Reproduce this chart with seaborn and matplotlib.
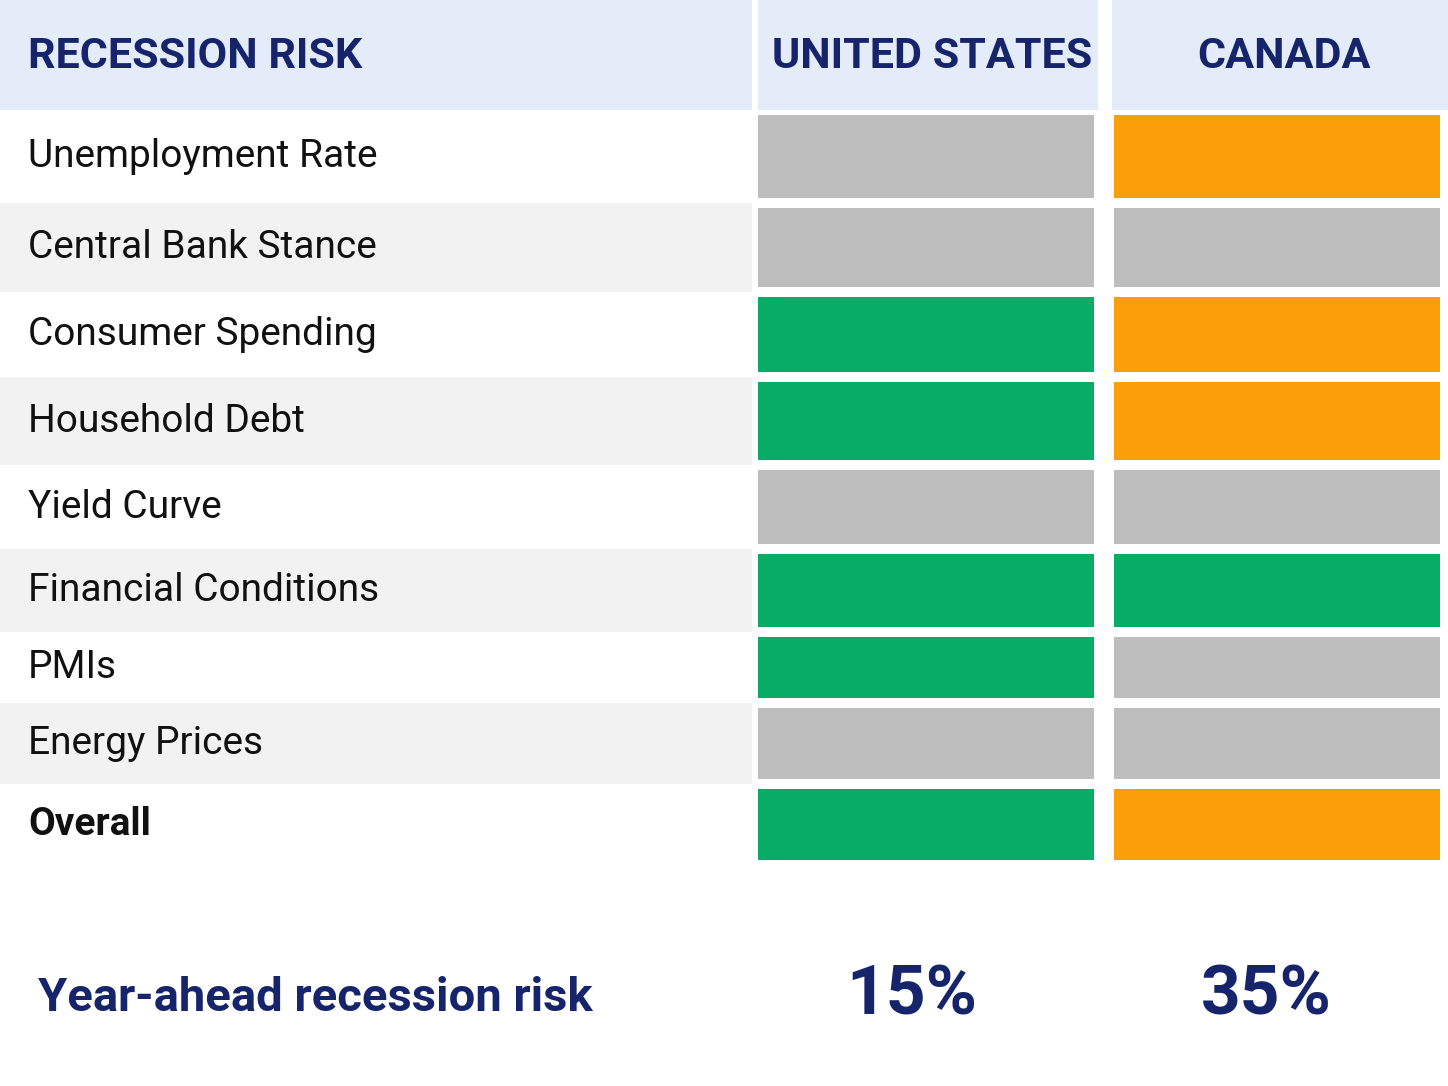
import matplotlib
matplotlib.use("Agg")
import matplotlib.pyplot as plt
import seaborn as sns

sns.set_theme(style="white")
plt.rcParams['font.family'] = ['Liberation Sans Narrow', 'Roboto', 'DejaVu Sans']

# data
indicators = ["Unemployment Rate", "Central Bank Stance", "Consumer Spending", "Household Debt",
              "Yield Curve", "Financial Conditions", "PMIs", "Energy Prices", "Overall"]
us_status = ["neutral", "neutral", "low", "low", "neutral", "low", "low", "neutral", "low"]
ca_status = ["elevated", "neutral", "elevated", "elevated", "neutral", "low", "neutral", "neutral", "elevated"]
countries = ["UNITED STATES", "CANADA"]
risk_pct = ["15%", "35%"]

palette = {"neutral": "#bdbdbd", "low": "#07ad66", "elevated": "#fa9e0a"}
navy = "#16256b"

# layout (pixel coords)
row_edges = [110, 203, 292, 377, 465, 549, 632, 703, 784, 865]
col_x = [(758, 1094), (1114, 1440)]
header_cols = [(0, 752), (758, 1098), (1112, 1448)]

fig = plt.figure(figsize=(14.48, 10.86), dpi=100)
ax = fig.add_axes([0, 0, 1, 1])
ax.set_xlim(0, 1448)
ax.set_ylim(1086, 0)
ax.axis("off")

# header band
for x0, x1 in header_cols:
    ax.bar((x0 + x1) / 2, 110, width=x1 - x0, bottom=0, color="#e3ecf8", linewidth=0)
ax.text(28, 56, "RECESSION RISK", fontsize=31, fontweight="bold", color=navy, va="center")
for (x0, x1), name in zip(header_cols[1:], countries):
    ax.text((x0 + x1) / 2 + 4, 56, name, fontsize=31, fontweight="bold", color=navy,
            va="center", ha="center")

# rows
for i, label in enumerate(indicators):
    top, bot = row_edges[i], row_edges[i + 1]
    if i % 2 == 1:
        ax.bar(376, bot - top, width=752, bottom=top, color="#f2f2f2", linewidth=0)
    for (x0, x1), status in zip(col_x, [us_status[i], ca_status[i]]):
        ax.bar((x0 + x1) / 2, bot - top - 10, width=x1 - x0, bottom=top + 5,
               color=palette[status], linewidth=0)
    ax.text(28, (top + bot) / 2, label, fontsize=28, color="#111111", va="center",
            fontweight="bold" if label == "Overall" else "normal")

# footer
ax.text(38, 998, "Year-ahead recession risk", fontsize=34, fontweight="bold", color=navy, va="center")
for cx, pct in zip([912, 1266], risk_pct):
    ax.text(cx, 996, pct, fontsize=50, fontweight="bold", color=navy, va="center", ha="center")

fig.savefig("out.png", dpi=100)
